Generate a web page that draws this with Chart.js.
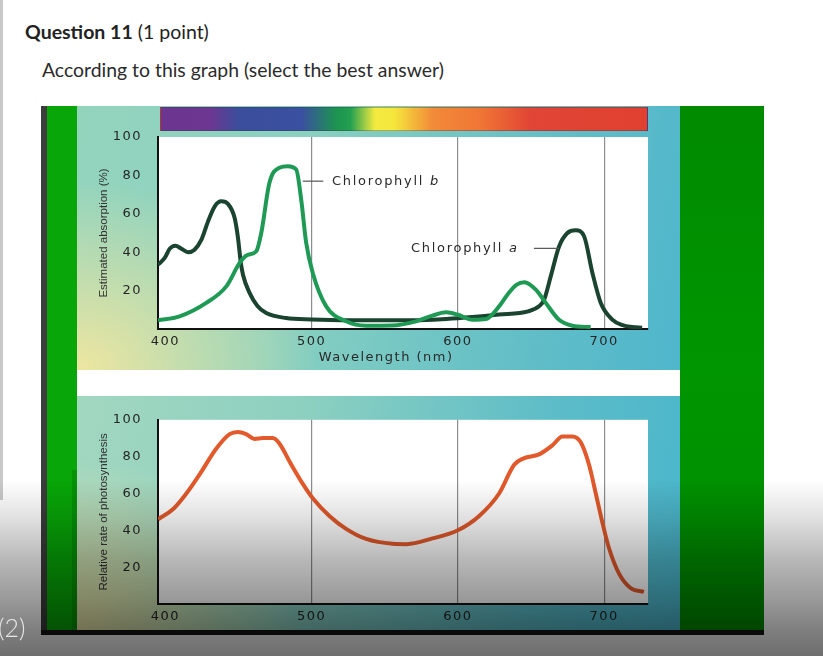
<!DOCTYPE html>
<html>
<head>
<meta charset="utf-8">
<title>Question 11 - absorption and action spectrum</title>
<script src="https://cdn.jsdelivr.net/npm/chart.js@4.4.1/dist/chart.umd.min.js"></script>
<style>
  html, body { margin: 0; padding: 0; background: #fff; }
  body { width: 823px; height: 656px; position: relative; overflow: hidden; font-family: Lato, "Open Sans", sans-serif; }
  .abs { position: absolute; }
  #question { left: 25px; top: 22px; margin: 0; font-size: 19.5px; line-height: 19.5px; color: #222; font-weight: normal; }
  #question b { font-weight: bold; }
  #prompt { left: 42px; top: 60px; margin: 0; font-size: 19.4px; line-height: 19.4px; color: #2b2b2b; }
  #edge { left: 0; top: 0; width: 3px; height: 500px; background: #c9c9c9; }
  #darkStrip { left: 41px; top: 106px; width: 6px; height: 524px; background: #3c3c3c; }
  #greenStrip { left: 47px; top: 106px; width: 30px; height: 524px; background: #08a608; }
  #greenShade { left: 72px; top: 470px; width: 5px; height: 160px; background: rgba(0, 60, 0, 0.18); }
  #topPanel {
    left: 77px; top: 106px; width: 603px; height: 264px;
    background:
      radial-gradient(ellipse 240px 190px at 0% 100%, rgba(238, 230, 160, 1), rgba(238, 230, 160, 0)),
      linear-gradient(100deg, #93d4bd 0%, #8bd1c0 35%, #62bec7 75%, #4fb6cc 100%);
  }
  #bottomPanel {
    left: 77px; top: 396px; width: 603px; height: 234px;
    background:
      radial-gradient(ellipse 220px 170px at 0% 100%, rgba(232, 228, 165, 1), rgba(232, 228, 165, 0)),
      linear-gradient(100deg, #a2d7c0 0%, #8dd0c0 35%, #5cbcc8 75%, #4ab6cc 100%);
  }
  #rightGreen { left: 680px; top: 106px; width: 84px; height: 524px; background: linear-gradient(to bottom, #008a00, #009600 50%, #008c00); }
  #blackBar { left: 41px; top: 630px; width: 723px; height: 5px; background: #151515; }
  #spectrum {
    left: 160px; top: 107px; width: 488px; height: 24px; box-sizing: border-box;
    border: 1px solid rgba(60, 60, 60, 0.35);
    background: linear-gradient(to right, #6b3590 0%, #6d3690 10%, #3b4d9c 16%, #3a50a0 29%, #1d9450 36%,
      #22a050 39%, #f3ea40 44%, #f5e63c 48%, #f28a38 56%, #f07535 66%, #e14535 76%, #e04030 100%);
  }
  #topCanvas { left: 77px; top: 106px; }
  #bottomCanvas { left: 77px; top: 396px; }
  #shade {
    left: 0; top: 480px; width: 823px; height: 176px; pointer-events: none;
    background: linear-gradient(to bottom, rgba(0,0,0,0) 0%, rgba(0,0,0,0.12) 22%, rgba(0,0,0,0.28) 45%,
      rgba(0,0,0,0.4) 68%, rgba(0,0,0,0.5) 85%, rgba(0,0,0,0.57) 100%);
  }
  #pageNo { left: -2px; top: 612px; font-size: 25px; line-height: 30px; color: #e6e6e6; font-weight: 300; }
</style>
</head>
<body>
<p id="question" class="abs"><b>Question 11</b> (1 point)</p>
<p id="prompt" class="abs">According to this graph (select the best answer)</p>
<div id="edge" class="abs"></div>

<div id="darkStrip" class="abs"></div>
<div id="greenStrip" class="abs"></div>
<div id="greenShade" class="abs"></div>
<div id="topPanel" class="abs"></div>
<div id="bottomPanel" class="abs"></div>
<div id="rightGreen" class="abs"></div>
<div id="spectrum" class="abs"></div>
<canvas id="topCanvas" class="abs" width="603" height="264"></canvas>
<canvas id="bottomCanvas" class="abs" width="603" height="234"></canvas>
<div id="blackBar" class="abs"></div>
<div id="shade" class="abs"></div>
<div id="pageNo" class="abs">(2)</div>

<script>
// Axis ticks
const xTicks = [400, 500, 600, 700];
const yTicks = [20, 40, 60, 80, 100];

// Chlorophyll a absorption (nm / %)
const chlAWave = [395, 399.6, 403, 406.9, 411, 415.5, 420, 424.7, 429.2, 433.8, 438.3, 442.9, 447.4, 449.7,
  451.5, 453.1, 457.6, 463, 469, 482.6, 500, 540, 570, 592, 610, 628, 648, 655.5, 659, 663.5, 669.2, 674.9,
  680.6, 686.3, 692, 697.7, 705.6, 712, 719.2, 726];
const chlAAbs = [33.5, 37, 41.8, 43.4, 41.8, 40, 41.3, 46.5, 56, 63.9, 66.5, 65.1, 57.8, 47.4,
  35.2, 28.3, 18.8, 12, 8.3, 5.7, 5, 4.5, 4.5, 5.2, 6.2, 7.5, 9.2, 11.8, 15.3, 27.4, 43, 50,
  51.4, 48.3, 29.2, 13.6, 4.9, 2.2, 1, 0.7];

// Chlorophyll b absorption (nm / %)
const chlBWave = [395, 409.8, 428, 441.7, 450.8, 456, 462.2, 465.6, 471.2, 478, 483.7, 489.5, 492.9, 496.3,
  500.8, 510, 523.6, 537.2, 555, 571.4, 582, 592, 600, 610, 619.2, 628.2, 634, 640, 645.5, 653.3, 660.1,
  669.2, 678.3, 690.8];
const chlBAbs = [4.5, 6.6, 13.6, 22.2, 34.4, 38.5, 40.5, 50, 76.2, 84, 84.8, 83.1, 67.4, 44.9,
  29.2, 11.8, 4, 1.7, 1.8, 4, 6.8, 8.7, 7.4, 4.8, 5.2, 11.8, 18, 23, 24.4, 20.5, 13.6,
  4.8, 1.7, 1];

// Relative rate of photosynthesis (nm / %)
const rateWave = [395, 405.2, 414.4, 423.5, 434.9, 444, 449.6, 455.3, 461, 466.7, 473.5, 478.1, 484.9, 494,
  500.8, 512.2, 523.6, 537.3, 555.4, 565, 582.7, 600, 614.6, 628.2, 638.5, 644.2, 655.5, 664.6, 671.5,
  678.3, 684, 689.7, 694.3, 698.8, 703.3, 710.2, 718.1, 727.2];
const rateValue = [46, 51.4, 60, 70.4, 84.4, 92.2, 93.4, 92.2, 89.6, 90.1, 90.1, 87, 77.4, 65.2,
  57.4, 47.8, 40.8, 35.3, 32.7, 32.5, 35.6, 40, 47.8, 60, 75.6, 78.8, 81.2, 86.1, 90.9,
  90.9, 87.8, 75.6, 60, 44.3, 30.4, 16.5, 8.7, 6.6];

const tickFont = { family: '"DejaVu Sans", Verdana, sans-serif', size: 13 };
const titleFont = { family: '"Liberation Sans", Arial, sans-serif', size: 11.5 };

function toPoints(xs, ys) {
  return xs.map((x, i) => ({ x: x, y: ys[i] }));
}

// white plot area behind the curves
const plotBackground = {
  id: 'plotBackground',
  beforeDraw(chart) {
    const { ctx, chartArea: a } = chart;
    ctx.save();
    ctx.fillStyle = '#fff';
    ctx.fillRect(a.left, a.top, a.right - a.left, a.bottom - a.top);
    ctx.restore();
  }
};

// the tick labels in the figure are set in a wide face, so space them out a bit
const spacedTicks = {
  id: 'spacedTicks',
  afterDatasetsDraw(chart) { chart.ctx.letterSpacing = '1.5px'; },
  afterDraw(chart) { chart.ctx.letterSpacing = '0px'; }
};

// curve names with leader lines and the x axis caption
const curveLabels = {
  id: 'curveLabels',
  afterDraw(chart, args, opts) {
    const { ctx, scales: { x, y } } = chart;
    ctx.save();
    ctx.fillStyle = '#2a2a2a';
    ctx.textBaseline = 'middle';
    ctx.letterSpacing = '1.7px';
    (opts.items || []).forEach(item => {
      ctx.strokeStyle = '#555';
      ctx.lineWidth = 1.2;
      ctx.beginPath();
      ctx.moveTo(x.getPixelForValue(item.lineFrom), y.getPixelForValue(item.at[1]));
      ctx.lineTo(x.getPixelForValue(item.lineTo), y.getPixelForValue(item.at[1]));
      ctx.stroke();
      const px = x.getPixelForValue(item.at[0]);
      const py = y.getPixelForValue(item.at[1]);
      ctx.font = '13px "DejaVu Sans", Verdana, sans-serif';
      ctx.textAlign = 'left';
      ctx.fillText(item.text, px, py);
      const w = ctx.measureText(item.text).width;
      ctx.font = 'italic 13px "DejaVu Sans", Verdana, sans-serif';
      ctx.fillText(item.italic, px + w, py);
    });
    if (opts.xTitle) {
      ctx.font = '13px "DejaVu Sans", Verdana, sans-serif';
      ctx.letterSpacing = '1.5px';
      ctx.textAlign = 'center';
      ctx.fillText(opts.xTitle.text, x.getPixelForValue(opts.xTitle.at), chart.chartArea.bottom + 29);
    }
    ctx.letterSpacing = '0px';
    ctx.restore();
  }
};

function makeScales(yTitle, xHeight) {
  return {
    x: {
      type: 'linear',
      min: 395,
      max: 730,
      afterBuildTicks: s => { s.ticks = xTicks.map(v => ({ value: v })); },
      afterFit: s => { s.height = xHeight; },
      grid: {
        color: c => (c.tick && c.tick.value === 400) ? 'rgba(0,0,0,0)' : '#8d8d8d',
        lineWidth: 1.2,
        drawTicks: false
      },
      border: { display: true, color: '#111', width: 2 },
      ticks: { color: '#262626', font: tickFont, padding: 5, z: 1, maxRotation: 0, autoSkip: false }
    },
    y: {
      type: 'linear',
      min: 0,
      max: 100,
      afterBuildTicks: s => { s.ticks = yTicks.map(v => ({ value: v })); },
      afterFit: s => { s.width = 81; },
      grid: { display: false, drawTicks: false },
      border: { display: true, color: '#111', width: 2 },
      ticks: { color: '#262626', font: tickFont, padding: 16, z: 1 },
      title: { display: true, text: yTitle, color: '#333', font: titleFont, padding: { top: 20, bottom: 0 } }
    }
  };
}

const lineDefaults = { pointRadius: 0, borderWidth: 4, fill: false, cubicInterpolationMode: 'monotone' };

new Chart(document.getElementById('topCanvas'), {
  type: 'line',
  data: {
    datasets: [
      Object.assign({ label: 'Chlorophyll b', data: toPoints(chlBWave, chlBAbs), borderColor: '#1f9a55' }, lineDefaults),
      Object.assign({ label: 'Chlorophyll a', data: toPoints(chlAWave, chlAAbs), borderColor: '#1a4430' }, lineDefaults)
    ]
  },
  options: {
    responsive: false,
    devicePixelRatio: 1,
    animation: false,
    layout: { padding: { left: 0, right: 32, top: 31, bottom: 0 } },
    scales: makeScales('Estimated absorption (%)', 41),
    plugins: {
      legend: { display: false },
      tooltip: { enabled: false },
      curveLabels: {
        items: [
          { text: 'Chlorophyll ', italic: 'b', at: [514, 77], lineFrom: 494, lineTo: 508 },
          { text: 'Chlorophyll ', italic: 'a', at: [568, 42], lineFrom: 652, lineTo: 669 }
        ],
        xTitle: { text: 'Wavelength (nm)', at: 551 }
      }
    }
  },
  plugins: [plotBackground, spacedTicks, curveLabels]
});

new Chart(document.getElementById('bottomCanvas'), {
  type: 'line',
  data: {
    datasets: [
      Object.assign({ label: 'Photosynthesis', data: toPoints(rateWave, rateValue), borderColor: '#e2592b' }, lineDefaults)
    ]
  },
  options: {
    responsive: false,
    devicePixelRatio: 1,
    animation: false,
    layout: { padding: { left: 0, right: 32, top: 16, bottom: 0 } },
    scales: makeScales('Relative rate of photosynthesis', 26),
    plugins: {
      legend: { display: false },
      tooltip: { enabled: false }
    }
  },
  plugins: [plotBackground, spacedTicks]
});
</script>
</body>
</html>
